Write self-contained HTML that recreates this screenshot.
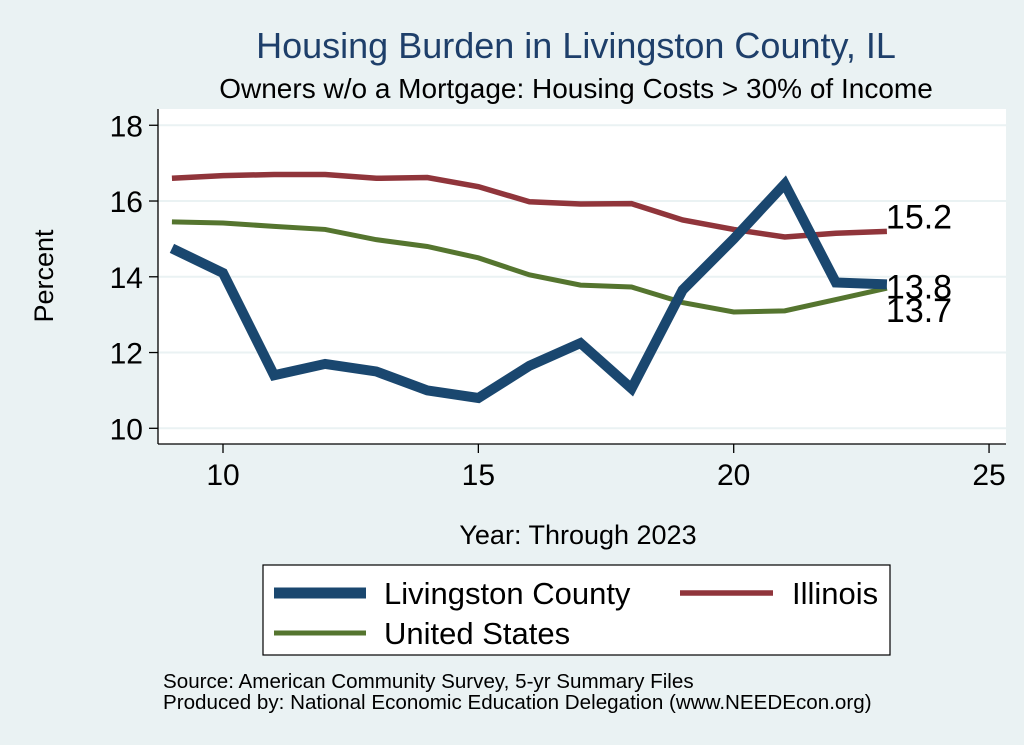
<!DOCTYPE html>
<html><head><meta charset="utf-8"><style>
body{margin:0;background:#eaf2f3;}
svg{display:block;font-family:"Liberation Sans",Arial,sans-serif;}
</style></head><body>
<svg width="1024" height="745">
<rect x="0" y="0" width="1024" height="745" fill="#eaf2f3"/>
<rect x="158" y="109" width="848" height="335" fill="#fff"/>
<text x="576" y="58" font-size="36" fill="#1e3f6a" text-anchor="middle">Housing Burden in Livingston County, IL</text>
<text x="576" y="98" font-size="28" fill="#000" text-anchor="middle">Owners w/o a Mortgage: Housing Costs &gt; 30% of Income</text>
<g id="grid"></g>
<g id="axes"></g>
<g id="series"></g>
<text x="53" y="276" font-size="27" text-anchor="middle" transform="rotate(-90 53 276)">Percent</text>
<text x="578" y="544" font-size="27" text-anchor="middle">Year: Through 2023</text>
<g>
<rect x="263" y="565" width="627" height="90" fill="#fff" stroke="#000" stroke-width="1.2"/>
<g><line x1="274" y1="593" x2="366" y2="593" stroke="#1a476f" stroke-width="11"/><text x="384" y="604" font-size="31">Livingston County</text></g>
<g><line x1="680" y1="593" x2="773" y2="593" stroke="#90353b" stroke-width="5.5"/><text x="792" y="604" font-size="31">Illinois</text></g>
<g><line x1="274" y1="633" x2="366" y2="633" stroke="#55752f" stroke-width="5"/><text x="384" y="644" font-size="31">United States</text></g>
</g>
<text x="163" y="688" font-size="20.6">Source: American Community Survey, 5-yr Summary Files</text>
<text x="163" y="709" font-size="20.6">Produced by: National Economic Education Delegation (www.NEEDEcon.org)</text>
</svg>
<script>
const years=[9,10,11,12,13,14,15,16,17,18,19,20,21,22,23];
const livingston=[14.75,14.1,11.4,11.7,11.5,11.0,10.8,11.65,12.25,11.05,13.65,15.0,16.45,13.85,13.8];
const illinois=[16.6,16.67,16.7,16.7,16.6,16.62,16.38,15.98,15.92,15.93,15.5,15.25,15.05,15.15,15.2];
const us=[15.45,15.42,15.33,15.25,14.98,14.8,14.5,14.05,13.78,13.73,13.32,13.07,13.1,13.4,13.7];
const yTicks=[10,12,14,16,18];
const xTicks=[10,15,20,25];
const ns="http://www.w3.org/2000/svg";
const X=v=>223+(v-10)*51.07;
const Y=v=>428.3-(v-10)*37.88;
function mk(tag,attrs,parent){const e=document.createElementNS(ns,tag);for(const k in attrs)e.setAttribute(k,attrs[k]);document.getElementById(parent).appendChild(e);return e;}
yTicks.forEach(t=>{
 const g=mk('line',{x1:158,x2:1006,y1:Y(t),y2:Y(t),stroke:'#eaf2f3','stroke-width':2},'grid');
 
 
 const tk=mk('line',{x1:149,x2:158,y1:Y(t),y2:Y(t),stroke:'#000','stroke-width':1.3},'axes');
 
 
 const tx=mk('text',{x:143,y:Y(t)+11,'font-size':30,'text-anchor':'end'},'axes');tx.textContent=t;
 
 
});
xTicks.forEach(t=>{
 const tk=mk('line',{x1:X(t),x2:X(t),y1:444,y2:453,stroke:'#000','stroke-width':1.3},'axes');
 
 
 const tx=mk('text',{x:X(t),y:485,'font-size':30,'text-anchor':'middle'},'axes');tx.textContent=t;
 
 
});
const ya=mk('line',{x1:158,x2:158,y1:109,y2:444,stroke:'#000','stroke-width':1.3},'axes');


const xa=mk('line',{x1:158,x2:1006,y1:444,y2:444,stroke:'#000','stroke-width':1.3},'axes');


function line(vals,color,w,name){
 const p=mk('polyline',{points:vals.map((v,i)=>X(years[i])+','+Y(v)).join(' '),fill:'none',stroke:color,'stroke-width':w,'stroke-linejoin':'miter'},'series');
 
 
}
line(illinois,'#90353b',5.5,'line-illinois');
line(us,'#55752f',5,'line-united-states');
line(livingston,'#1a476f',10,'line-livingston-county');
function lab(vals,dy,name){
 const v=vals[vals.length-1];
 const t=mk('text',{x:X(years[years.length-1])-1,y:Y(v)+dy,'font-size':34},'series');
 t.textContent=v.toFixed(1);
 
 
}
lab(illinois,-3,'label-illinois-last');
lab(livingston,14,'label-livingston-last');
lab(us,34,'label-us-last');
</script>
</body></html>
